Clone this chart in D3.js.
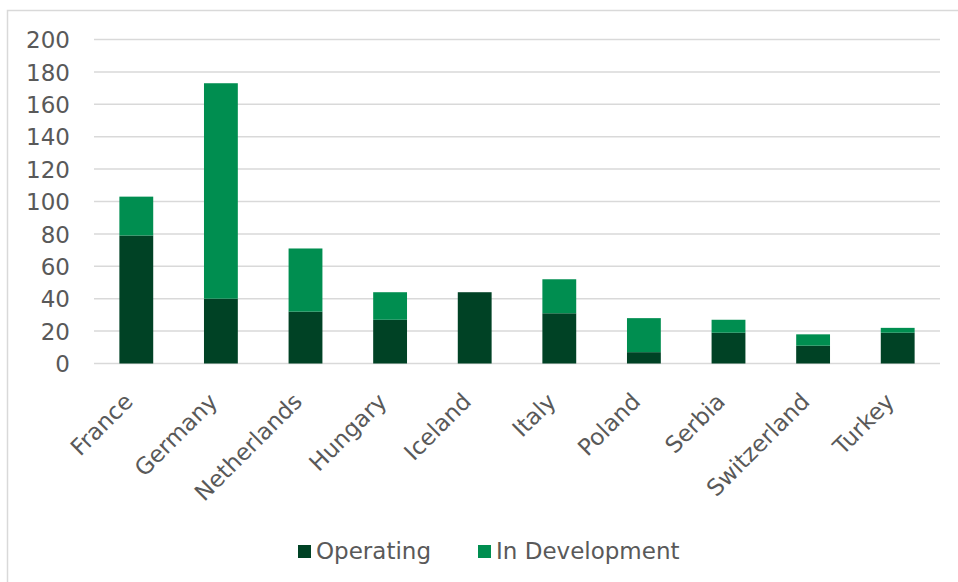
<!DOCTYPE html>
<html>
<head>
<meta charset="utf-8">
<script src="https://cdn.jsdelivr.net/npm/d3@7"></script>
<style>
  html, body { margin: 0; padding: 0; background: #ffffff; }
  svg { display: block; }
  text { font-family: "DejaVu Sans", Verdana, sans-serif; fill: #595959; }
</style>
</head>
<body>
<svg id="chart" width="958" height="582"></svg>
<script>
// Countries and their project counts
const countries = ["France", "Germany", "Netherlands", "Hungary", "Iceland",
                   "Italy", "Poland", "Serbia", "Switzerland", "Turkey"];
const operating = [79, 40, 32, 27, 44, 31, 7, 19, 11, 19];
const inDevelopment = [24, 133, 39, 17, 0, 21, 21, 8, 7, 3];
const seriesNames = ["Operating", "In Development"];
const yTicks = [0, 20, 40, 60, 80, 100, 120, 140, 160, 180, 200];

const colors = { "Operating": "#004225", "In Development": "#008E50" };

const W = 958, H = 582;
const plot = { left: 94, right: 940, top: 39.5, bottom: 363.5 };
const fontSize = "23px";

const svg = d3.select("#chart");

// Outer chart frame
svg.append("rect")
  .attr("x", 7.5).attr("y", 10.5)
  .attr("width", W + 10).attr("height", H + 10)
  .attr("fill", "#ffffff")
  .attr("stroke", "#d9d9d9").attr("stroke-width", 1.5);

const x = d3.scaleBand()
  .domain(countries)
  .range([plot.left, plot.right])
  .paddingInner(0.6)
  .paddingOuter(0.3);

const y = d3.scaleLinear()
  .domain([0, 200])
  .range([plot.bottom, plot.top]);

// Horizontal gridlines
svg.append("g")
  .selectAll("line")
  .data(yTicks)
  .join("line")
  .attr("x1", plot.left).attr("x2", plot.right)
  .attr("y1", d => y(d)).attr("y2", d => y(d))
  .attr("stroke", "#d9d9d9").attr("stroke-width", 1.5);

// Y axis labels
const yAxis = d3.axisLeft(y).tickValues(yTicks).tickSize(0).tickPadding(0);
const gy = svg.append("g")
  .attr("transform", `translate(70,0)`)
  .call(yAxis);
gy.select(".domain").remove();
gy.selectAll("text")
  .attr("font-size", fontSize)
  .attr("font-family", "DejaVu Sans, Verdana, sans-serif")
  .attr("fill", "#595959")
  .attr("dy", "0.36em");

// Stacked bars
const rows = countries.map((c, i) => ({
  country: c,
  "Operating": operating[i],
  "In Development": inDevelopment[i]
}));
const stacked = d3.stack().keys(seriesNames)(rows);

svg.append("g")
  .selectAll("g")
  .data(stacked)
  .join("g")
  .attr("fill", d => colors[d.key])
  .selectAll("rect")
  .data(d => d)
  .join("rect")
  .attr("x", d => x(d.data.country))
  .attr("width", x.bandwidth())
  .attr("y", d => y(d[1]))
  .attr("height", d => y(d[0]) - y(d[1]));

// Rotated category labels
svg.append("g")
  .selectAll("text")
  .data(countries)
  .join("text")
  .attr("transform", d => `translate(${x(d) + x.bandwidth() / 2 - 2},403) rotate(-45)`)
  .attr("text-anchor", "end")
  .attr("font-size", fontSize)
  .text(d => d);

// Legend
const legendItems = [
  { name: seriesNames[0], sx: 298, tx: 316 },
  { name: seriesNames[1], sx: 478, tx: 496 }
];
const lg = svg.append("g");
lg.selectAll("rect")
  .data(legendItems)
  .join("rect")
  .attr("x", d => d.sx).attr("y", 545)
  .attr("width", 13).attr("height", 13)
  .attr("fill", d => colors[d.name]);
lg.selectAll("text")
  .data(legendItems)
  .join("text")
  .attr("x", d => d.tx).attr("y", 559)
  .attr("font-size", fontSize)
  .text(d => d.name);
</script>
</body>
</html>
